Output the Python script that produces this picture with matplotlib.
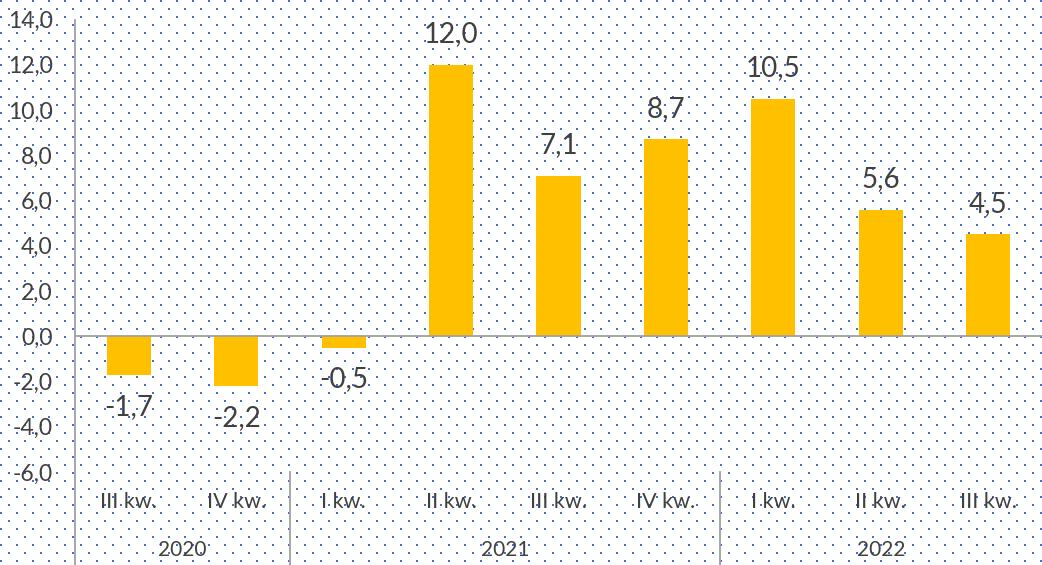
import numpy as np
import matplotlib
matplotlib.use("Agg")
import matplotlib.pyplot as plt
import matplotlib.transforms as mtransforms
from matplotlib.lines import Line2D

# ---- data ----
quarters = ["III kw.", "IV kw.", "I kw.", "II kw.", "III kw.", "IV kw.", "I kw.", "II kw.", "III kw."]
years = ["2020", "2021", "2022"]
year_sizes = [2, 4, 3]
values = [-1.7, -2.2, -0.5, 12.0, 7.1, 8.7, 10.5, 5.6, 4.5]
y_ticks = [-6, -4, -2, 0, 2, 4, 6, 8, 10, 12, 14]

# ---- style ----
W, H = 1042, 565
BAR = "#FFC000"
TXT = "#404040"
AX = "#A0A0A0"
DOT = np.array([0x44, 0x72, 0xC4]) / 255.0

plt.rcParams["font.family"] = ["Lato", "DejaVu Sans"]

fig = plt.figure(figsize=(W / 100, H / 100), dpi=100, facecolor="white")

# dotted background pattern
img = np.ones((H, W, 4))
yy, xx = np.mgrid[0:H, 0:W]
mask = (xx % 8 < 2) & (yy % 8 < 2) & (((xx // 8) + (yy // 8)) % 2 == 0)
img[mask, :3] = DOT
fig.figimage(img, xo=0, yo=0, origin="upper", zorder=0)

left_px, right_px = 75, 1042
top_px, bot_px = 19.5, 472
ax = fig.add_axes([left_px / W, 1 - bot_px / H, (right_px - left_px) / W, (bot_px - top_px) / H])
ax.patch.set_alpha(0)
ax.set_zorder(1)

x = np.arange(len(values))
ax.bar(x, values, width=0.41, color=BAR, zorder=2)
ax.set_xlim(-0.5, len(values) - 0.5)
ax.set_ylim(-6, 14)

for s in ax.spines.values():
    s.set_visible(False)

ax.axhline(0, color=AX, lw=1.3, zorder=3)

ax.set_yticks(y_ticks)
ax.set_yticklabels([f"{v:.1f}".replace(".", ",") for v in y_ticks])
ax.tick_params(axis="y", length=0, pad=16, labelsize=16.5, labelcolor=TXT)
ax.set_xticks([])

# data labels
for xi, v in zip(x, values):
    off = 22 if v >= 0 else -23
    ax.annotate(f"{v:.1f}".replace(".", ","), (xi, v), xytext=(0, off),
                textcoords="offset points", ha="center", va="center",
                fontsize=20, color=TXT)

# left axis line extending through category area
ax.add_line(Line2D([0, 0], [-0.25, 1], transform=ax.transAxes, color=AX, lw=1.3, clip_on=False, zorder=3))

blend = mtransforms.blended_transform_factory(ax.transData, ax.transAxes)
ax_h = bot_px - top_px
q_y = -(502 - bot_px) / ax_h
y_y = -(550 - bot_px) / ax_h

for xi, q in zip(x, quarters):
    ax.text(xi, q_y, q, transform=blend, ha="center", va="center", fontsize=15.5, color=TXT)

start = 0
for yr, n in zip(years, year_sizes):
    center = start + (n - 1) / 2
    ax.text(center, y_y, yr, transform=blend, ha="center", va="center", fontsize=15, color=TXT)
    end = start + n - 0.5
    if start + n < len(values):
        ax.add_line(Line2D([end, end], [-0.25, 0], transform=blend, color=AX, lw=1.3, clip_on=False, zorder=3))
    start += n

fig.savefig("out.png", dpi=100)
